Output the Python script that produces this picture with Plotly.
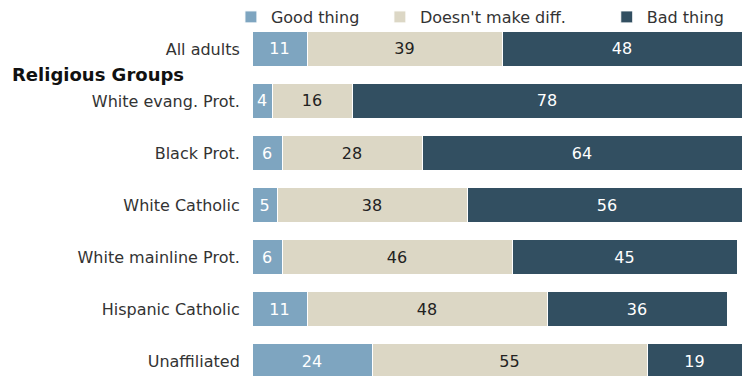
import plotly.graph_objects as go

categories = ["All adults", "White evang. Prot.", "Black Prot.", "White Catholic",
              "White mainline Prot.", "Hispanic Catholic", "Unaffiliated"]
good = [11, 4, 6, 5, 6, 11, 24]
nodiff = [39, 16, 28, 38, 46, 48, 55]
bad = [48, 78, 64, 56, 45, 36, 19]
series_names = ["Good thing", "Doesn't make diff.", "Bad thing"]
colors = ["#7ea5c0", "#dcd7c5", "#324f61"]
text_colors = ["white", "#222222", "white"]
legend_ids = ["legend", "legend2", "legend3"]
legend_x = [-0.043, 0.261, 0.724]

FONT = "DejaVu Sans"
FS = 16
fig = go.Figure()
for name, vals, col, tc, lg in zip(series_names, [good, nodiff, bad], colors, text_colors, legend_ids):
    fig.add_trace(go.Bar(
        y=categories, x=vals, name=name, orientation="h", legend=lg,
        marker=dict(color=col, line=dict(color="white", width=1)),
        text=[str(v) for v in vals], textposition="inside", insidetextanchor="middle",
        textfont=dict(family=FONT, size=FS, color=tc),
        constraintext="none", hoverinfo="skip",
    ))

legend_common = dict(orientation="h", y=1.0, xanchor="left", yanchor="top",
                     bgcolor="rgba(0,0,0,0)", itemwidth=30,
                     font=dict(family=FONT, size=FS, color="#333333"))
layout_legends = {lg: dict(legend_common, x=x) for lg, x in zip(legend_ids, legend_x)}

fig.update_layout(
    barmode="stack", bargap=0.34,
    width=742, height=376,
    margin=dict(l=252, r=0, t=0, b=0),
    plot_bgcolor="white", paper_bgcolor="white",
    font=dict(family=FONT, size=FS, color="#333333"),
    xaxis=dict(range=[0, 98], visible=False, fixedrange=True),
    yaxis=dict(categoryorder="array", categoryarray=categories,
               range=[6.288, -0.942], showgrid=False, zeroline=False,
               showline=False, ticks="outside", ticklen=8, tickcolor="white",
               tickfont=dict(family=FONT, size=FS, color="#333333")),
    showlegend=True,
    annotations=[dict(text="<b>Religious Groups</b>", xref="paper", yref="y",
                      x=-252/490 + 10/490, y=0.5, xanchor="left", yanchor="middle",
                      showarrow=False, font=dict(family=FONT, size=18, color="#111111"))],
    **layout_legends,
)
fig.write_html("out.html")
